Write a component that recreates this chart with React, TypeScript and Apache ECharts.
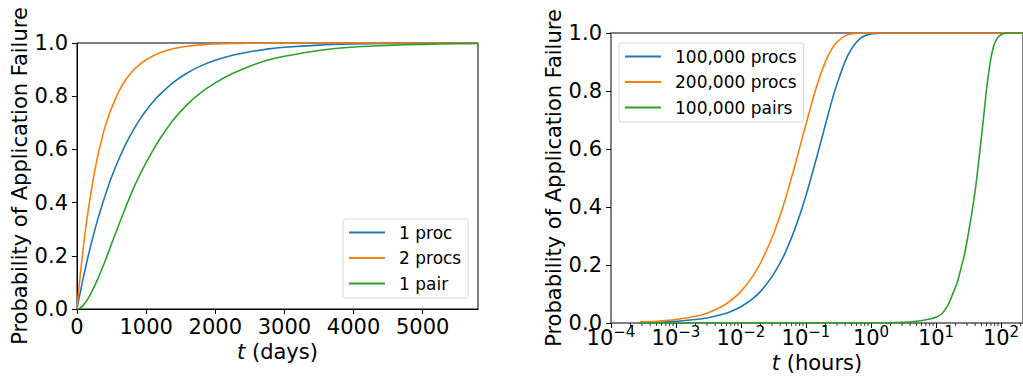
import React, { useEffect, useRef } from "react";
import * as echarts from "echarts";

// ---- Left panel: time in days ----
const daysT = [0, 25, 50, 75, 100, 150, 200, 250, 300, 350, 400, 450, 500, 600, 700, 800, 900, 1000, 1100, 1200, 1400, 1600, 1800, 2000, 2250, 2500, 2750, 3000, 3500, 4000, 4500, 5000, 5500, 5800];
const oneProc = [0, 0.034, 0.066, 0.098, 0.128, 0.186, 0.24, 0.29, 0.337, 0.38, 0.42, 0.46, 0.496, 0.56, 0.617, 0.666, 0.709, 0.746, 0.779, 0.807, 0.853, 0.888, 0.915, 0.935, 0.954, 0.967, 0.977, 0.984, 0.992, 0.996, 0.998, 0.999, 0.9995, 0.9997];
const twoProcs = [0, 0.07, 0.135, 0.195, 0.25, 0.35, 0.435, 0.51, 0.575, 0.63, 0.68, 0.72, 0.755, 0.815, 0.86, 0.893, 0.918, 0.937, 0.951, 0.963, 0.979, 0.988, 0.993, 0.996, 0.998, 0.999, 1, 1, 1, 1, 1, 1, 1, 1];
const onePair = [0, 0.001, 0.0045, 0.01, 0.017, 0.035, 0.058, 0.084, 0.113, 0.144, 0.176, 0.21, 0.245, 0.313, 0.38, 0.443, 0.5, 0.55, 0.597, 0.64, 0.713, 0.77, 0.815, 0.85, 0.885, 0.913, 0.935, 0.95, 0.972, 0.985, 0.991, 0.995, 0.997, 0.998];
const leftNames = ["1 proc", "2 procs", "1 pair"];
const leftTicks = [0, 1000, 2000, 3000, 4000, 5000];

// ---- Right panel: time in hours (log) ----
const hoursT = [0.00028, 0.0005, 0.001, 0.002, 0.003, 0.005, 0.007, 0.01, 0.015, 0.02, 0.03, 0.04, 0.05, 0.07, 0.1, 0.15, 0.2, 0.25, 0.3, 0.4, 0.5, 0.7, 1, 1.5, 2, 5, 10, 240];
const procs100k = [0.002, 0.003, 0.006, 0.012, 0.017, 0.029, 0.04, 0.056, 0.083, 0.109, 0.16, 0.207, 0.252, 0.334, 0.44, 0.581, 0.686, 0.766, 0.824, 0.902, 0.945, 0.983, 0.997, 0.9998, 1, 1, 1, 1];
const procs200k = [0.003, 0.006, 0.012, 0.023, 0.034, 0.056, 0.078, 0.109, 0.16, 0.207, 0.294, 0.371, 0.44, 0.556, 0.686, 0.825, 0.902, 0.945, 0.969, 0.99, 0.997, 1, 1, 1, 1, 1, 1, 1];
const pairsT = [0.00028, 1, 3, 5, 8, 10, 12.3, 15, 17, 19, 21.5, 24, 27.3, 31, 34.5, 38, 41.2, 45, 49.2, 54, 58.7, 64, 70.2, 78, 88.9, 100, 112, 130, 150, 240];
const pairs100k = [0, 0, 0.002, 0.006, 0.014, 0.02, 0.032, 0.058, 0.085, 0.112, 0.143, 0.185, 0.235, 0.3, 0.362, 0.42, 0.477, 0.55, 0.627, 0.71, 0.788, 0.856, 0.915, 0.958, 0.984, 0.994, 0.998, 1, 1, 1];
const rightNames = ["100,000 procs", "200,000 procs", "100,000 pairs"];
const minorTickValues = [-4, -3, -2, -1, 0, 1, 2].flatMap((k) => [2, 3, 4, 5, 6, 7, 8, 9].map((m) => m * Math.pow(10, k)));

const COLORS = ["#1f77b4", "#ff7f0e", "#2ca02c"];
const FONT = "DejaVu Sans";
const X_MAX_HOURS = 218;

const zip = (xs: number[], ys: number[]) => xs.map((x, i) => [x, ys[i]]);

export default function App() {
  const ref = useRef<HTMLDivElement>(null);
  useEffect(() => {
    if (!ref.current) return;
    const chart = echarts.init(ref.current, null, { renderer: "svg" });

    const legendCommon = {
      orient: "vertical" as const,
      backgroundColor: "rgba(255,255,255,0.8)",
      borderColor: "#d6d6d6",
      borderWidth: 1,
      borderRadius: 3,
      padding: [5, 7, 6, 6],
      icon: "rect",
      itemWidth: 36,
      itemHeight: 2,
      itemGap: 8.5,
      textStyle: { fontSize: 17, color: "#000", fontFamily: FONT, padding: [0, 0, 0, 9], lineHeight: 17 },
    };

    const axisText = { fontSize: 21, color: "#000", fontFamily: FONT };

    const lineSeries = (name: string, x: number, data: number[][], color: string) => ({
      name,
      type: "line",
      xAxisIndex: x,
      yAxisIndex: x,
      data,
      smooth: 0.25,
      symbol: "none",
      lineStyle: { color, width: 1.6 },
      itemStyle: { color },
      z: 3,
    });

    const yAxisCommon = (gap: number, lineColor: string, lineWidth: number) => ({
      type: "value",
      min: 0,
      max: 1,
      interval: 0.2,
      name: "Probability of Application Failure",
      nameLocation: "middle",
      nameGap: gap,
      nameTextStyle: axisText,
      axisLine: { show: true, lineStyle: { color: lineColor, width: lineWidth } },
      axisTick: { show: true, length: 5, lineStyle: { color: "#000", width: 1 } },
      axisLabel: { ...axisText, margin: 9, formatter: (v: number) => v.toFixed(1) },
      splitLine: { show: false },
    });

    chart.setOption({
      animation: false,
      backgroundColor: "#fff",
      textStyle: { fontFamily: FONT },
      grid: [
        { left: 77, top: 43, width: 401, height: 266, show: true, borderColor: "#000", borderWidth: 1, backgroundColor: "transparent" },
        { left: 611, top: 33, width: 412, height: 290, show: true, borderColor: "#000", borderWidth: 1, backgroundColor: "transparent" },
      ],
      legend: [
        { ...legendCommon, data: leftNames, left: 343, top: 219 },
        { ...legendCommon, data: rightNames, left: 619, top: 43 },
      ],
      xAxis: [
        {
          type: "value",
          gridIndex: 0,
          min: 0,
          max: 5800,
          interval: 1000,
          name: "{i|t} (days)",
          nameLocation: "middle",
          nameGap: 32,
          nameTextStyle: { ...axisText, rich: { i: { ...axisText, fontStyle: "italic" } } },
          axisLine: { show: true, lineStyle: { color: "#000", width: 1 } },
          axisTick: { show: true, length: 5, lineStyle: { color: "#000", width: 1 } },
          axisLabel: {
            ...axisText,
            margin: 7,
            showMaxLabel: false,
            formatter: (v: number) => (leftTicks.includes(v) ? String(v) : ""),
          },
          splitLine: { show: false },
        },
        {
          type: "log",
          logBase: 10,
          gridIndex: 1,
          min: 0.0001,
          max: X_MAX_HOURS,
          name: "{i|t} (hours)",
          nameLocation: "middle",
          nameGap: 28,
          nameTextStyle: { ...axisText, rich: { i: { ...axisText, fontStyle: "italic" } } },
          axisLine: { show: true, lineStyle: { color: "#808080", width: 2 } },
          axisTick: { show: true, length: 5, lineStyle: { color: "#000", width: 1 } },
          axisLabel: {
            margin: 1,
            showMaxLabel: false,
            formatter: (v: number) => {
              const l = Math.log10(v);
              const e = Math.round(l);
              if (Math.abs(l - e) > 1e-6) return "";
              const es = e < 0 ? "\u2212" + String(-e) : String(e);
              return "{b|10}{s|" + es + "}";
            },
            rich: {
              b: { fontSize: 21, lineHeight: 21, color: "#000", fontFamily: FONT, padding: [6, 0, 0, 0] },
              s: { fontSize: 15, lineHeight: 15, color: "#000", fontFamily: FONT, verticalAlign: "top" },
            },
          },
          splitLine: { show: false },
        },
      ],
      yAxis: [
        { ...yAxisCommon(46, "#000", 1), gridIndex: 0 },
        { ...yAxisCommon(46, "#808080", 2), gridIndex: 1 },
      ],
      series: [
        lineSeries(leftNames[0], 0, zip(daysT, oneProc), COLORS[0]),
        lineSeries(leftNames[1], 0, zip(daysT, twoProcs), COLORS[1]),
        lineSeries(leftNames[2], 0, zip(daysT, onePair), COLORS[2]),
        lineSeries(rightNames[0], 1, zip(hoursT, procs100k), COLORS[0]),
        lineSeries(rightNames[1], 1, zip(hoursT, procs200k), COLORS[1]),
        lineSeries(rightNames[2], 1, zip(pairsT, pairs100k), COLORS[2]),
        {
          type: "custom",
          xAxisIndex: 1,
          yAxisIndex: 1,
          silent: true,
          clip: false,
          data: minorTickValues.filter((v) => v <= X_MAX_HOURS).map((v) => [v, 0]),
          renderItem: (_params: any, api: any) => {
            const p = api.coord([api.value(0), 0]);
            return {
              type: "line",
              shape: { x1: p[0], y1: p[1], x2: p[0], y2: p[1] + 3 },
              style: { stroke: "#000", lineWidth: 0.8 },
            };
          },
        },
      ],
    });
    return () => chart.dispose();
  }, []);
  return <div ref={ref} style={{ position: "absolute", left: 0, top: 0, width: 1023, height: 379 }} />;
}
